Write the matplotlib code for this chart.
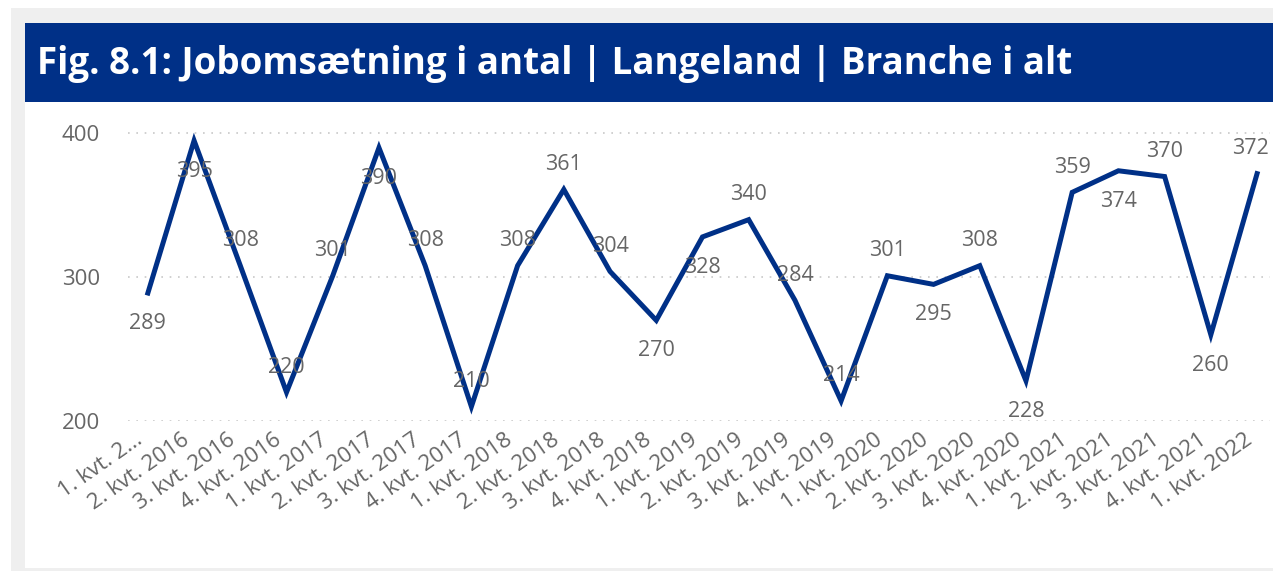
import matplotlib
matplotlib.use("Agg")
import matplotlib.pyplot as plt
import matplotlib.transforms as mtransforms
from matplotlib.patches import Rectangle

TITLE = "Fig. 8.1: Jobomsætning i antal | Langeland | Branche i alt"

QUARTERS = (["1. kvt. 2..."] + [f"{q}. kvt. 2016" for q in (2, 3, 4)]
            + [f"{q}. kvt. {y}" for y in range(2017, 2022) for q in (1, 2, 3, 4)]
            + ["1. kvt. 2022"])
JOBS = [289, 395, 308, 220, 301, 390, 308, 210, 308, 361, 304, 270, 328,
        340, 284, 214, 301, 295, 308, 228, 359, 374, 370, 260, 372]
# label placement per point: a = above, b = below
LABEL_POS = list("bbaaabaaaaabbaaaababababa")

NAVY = "#003087"
GREY_TXT = "#666666"
BORDER = "#efefef"

W, H = 1273, 571
fig = plt.figure(figsize=(W / 100, H / 100), dpi=100)
plt.rcParams["font.family"] = ["Open Sans", "DejaVu Sans"]

def px(x0, y0, x1, y1):
    # pixel box (top-left origin) -> figure fraction rect
    return [x0 / W, 1 - y1 / H, (x1 - x0) / W, (y1 - y0) / H]

# page background + card
bg = fig.add_axes([0, 0, 1, 1])
bg.set_xlim(0, W); bg.set_ylim(H, 0); bg.axis("off")
bg.add_patch(Rectangle((11, 8), W, H - 8, color=BORDER, lw=0))
bg.add_patch(Rectangle((25, 23), W, 545, color="white", lw=0))
bg.add_patch(Rectangle((25, 23), W, 79, color=NAVY, lw=0))
bg.text(37, 64, TITLE, color="white", fontsize=26.5, fontweight="bold",
        va="center", ha="left")

ax = fig.add_axes(px(128, 119, 1270, 421))
x = list(range(len(JOBS)))
ax.plot(x, JOBS, color=NAVY, lw=3.6, solid_joinstyle="miter", clip_on=False)

for i, (v, pos) in enumerate(zip(JOBS, LABEL_POS)):
    dy = 18 if pos == "a" else -22
    dx = -5 if i == len(JOBS) - 1 else 0
    ax.annotate(str(v), (i, v), xytext=(dx, dy), textcoords="offset points",
                ha="center", va="center", fontsize=15.5, color=GREY_TXT)

ax.set_xlim(-0.43, 24.28)
ax.set_ylim(200, 410)
ax.tick_params(axis="y", labelsize=16, labelcolor=GREY_TXT, length=0, pad=20)
ax.tick_params(axis="x", length=0, pad=6, labelsize=16, labelcolor=GREY_TXT)
ax.set_yticks([200, 300, 400])
ax.set_xticks(x)
ax.set_xticklabels(QUARTERS, rotation=35, ha="right", va="top",
                   rotation_mode="anchor")
shift = mtransforms.ScaledTranslation(-13 / 100, 0, fig.dpi_scale_trans)
for lab in ax.get_xticklabels():
    lab.set_fontsize(16)
    lab.set_transform(lab.get_transform() + shift)
for y in (200, 300, 400):
    ax.axhline(y, color="#c8c8c8", lw=1.2, ls=(0, (1, 4)), zorder=0)
for s in ax.spines.values():
    s.set_visible(False)
ax.set_facecolor("none")

fig.savefig("out.png", dpi=100)
